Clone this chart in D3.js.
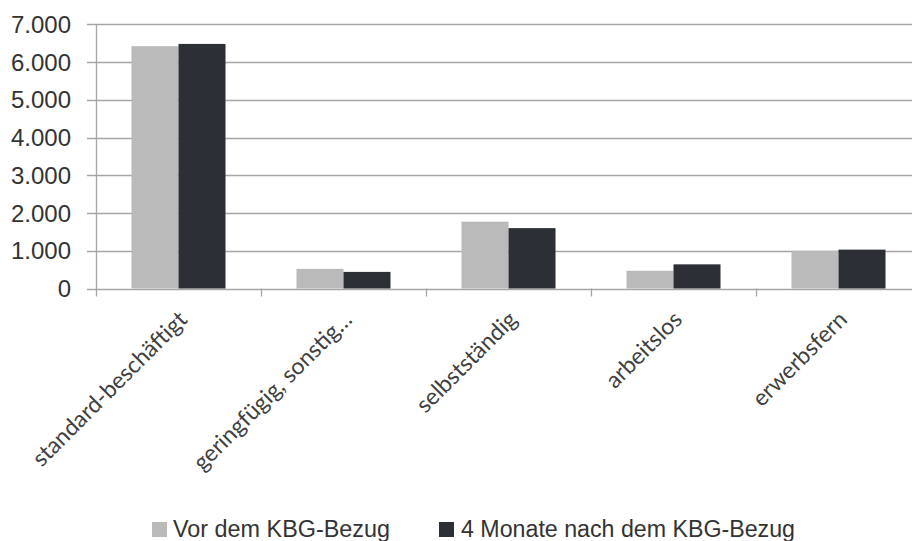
<!DOCTYPE html>
<html>
<head>
<meta charset="utf-8">
<script src="https://cdn.jsdelivr.net/npm/d3@7"></script>
<style>
html,body{margin:0;padding:0;background:#fff;}
svg{display:block;}
</style>
</head>
<body>
<svg id="chart" width="912" height="541"></svg>
<script>
const categories = ["standard-beschäftigt", "geringfügig, sonstig…", "selbstständig", "arbeitslos", "erwerbsfern"];
const seriesNames = ["Vor dem KBG-Bezug", "4 Monate nach dem KBG-Bezug"];
const vorValues = [6420, 520, 1770, 470, 1000];
const nachValues = [6480, 440, 1600, 640, 1030];
const yTicks = [0, 1000, 2000, 3000, 4000, 5000, 6000, 7000];
const yTickLabels = ["0", "1.000", "2.000", "3.000", "4.000", "5.000", "6.000", "7.000"];
const colors = ["#BABABB", "#2C2F36"];

const svg = d3.select("#chart");
const plotLeft = 96, plotRight = 921, plotTop = 24.3, plotBottom = 288.5;

const x0 = d3.scaleBand().domain(categories).range([plotLeft, plotRight]).padding(0);
const x1 = d3.scaleBand().domain(seriesNames).range([0, x0.bandwidth()]).paddingInner(0).paddingOuter(0.755);
const y = d3.scaleLinear().domain([0, 7000]).range([plotBottom, plotTop]);

const rows = categories.map((c, i) => ({cat: c, vals: [vorValues[i], nachValues[i]]}));

// gridlines
svg.append("g").selectAll("line").data(yTicks).join("line")
  .attr("x1", plotLeft - 9).attr("x2", 912)
  .attr("y1", d => Math.round(y(d)) + 0.5).attr("y2", d => Math.round(y(d)) + 0.5)
  .attr("stroke", "#A6A6A6").attr("stroke-width", 1.3);

// y axis line
svg.append("line").attr("x1", plotLeft + 0.5).attr("x2", plotLeft + 0.5)
  .attr("y1", y(7000)).attr("y2", y(0) + 8)
  .attr("stroke", "#A6A6A6").attr("stroke-width", 1.3);

// category ticks
const boundaries = categories.map(c => x0(c)).concat([plotRight]);
svg.append("g").selectAll("line").data(boundaries.slice(1)).join("line")
  .attr("x1", d => Math.round(d) + 0.5).attr("x2", d => Math.round(d) + 0.5)
  .attr("y1", y(0)).attr("y2", y(0) + 8)
  .attr("stroke", "#A6A6A6").attr("stroke-width", 1.3);

// bars
const groups = svg.append("g").selectAll("g").data(rows).join("g")
  .attr("transform", d => `translate(${x0(d.cat)},0)`);
groups.selectAll("rect").data(d => d.vals.map((v, i) => ({name: seriesNames[i], v, i}))).join("rect")
  .attr("x", d => x1(d.name))
  .attr("width", x1.bandwidth())
  .attr("y", d => y(d.v))
  .attr("height", d => y(0) - y(d.v))
  .attr("fill", d => colors[d.i]);

// y labels
svg.append("g").selectAll("text").data(yTicks).join("text")
  .attr("x", 71).attr("y", d => y(d))
  .attr("dy", "0.36em")
  .attr("text-anchor", "end")
  .attr("font-family", "Liberation Sans, Arial, sans-serif")
  .attr("font-size", 24)
  .attr("fill", "#333333")
  .text((d, i) => yTickLabels[i]);

// x labels
svg.append("g").selectAll("text").data(categories).join("text")
  .attr("transform", d => `translate(${x0(d) + x0.bandwidth() / 2 + 10},321) rotate(-45)`)
  .attr("text-anchor", "end")
  .attr("font-family", "Lato, 'Open Sans', sans-serif")
  .attr("font-size", 23)
  .attr("fill", "#404040")
  .text(d => d);

// legend
const legendItems = [
  {name: seriesNames[0], color: colors[0], sx: 152, tx: 173, tl: 217},
  {name: seriesNames[1], color: colors[1], sx: 439, tx: 461, tl: 334}
];
const lg = svg.append("g");
legendItems.forEach(it => {
  lg.append("rect").attr("x", it.sx).attr("y", 522).attr("width", 15).attr("height", 15).attr("fill", it.color);
  lg.append("text").attr("x", it.tx).attr("y", 537)
    .attr("font-family", "Liberation Sans, Arial, sans-serif")
    .attr("font-size", 23)
    .attr("fill", "#333333")
    .attr("textLength", it.tl).attr("lengthAdjust", "spacingAndGlyphs")
    .text(it.name);
});
</script>
</body>
</html>
